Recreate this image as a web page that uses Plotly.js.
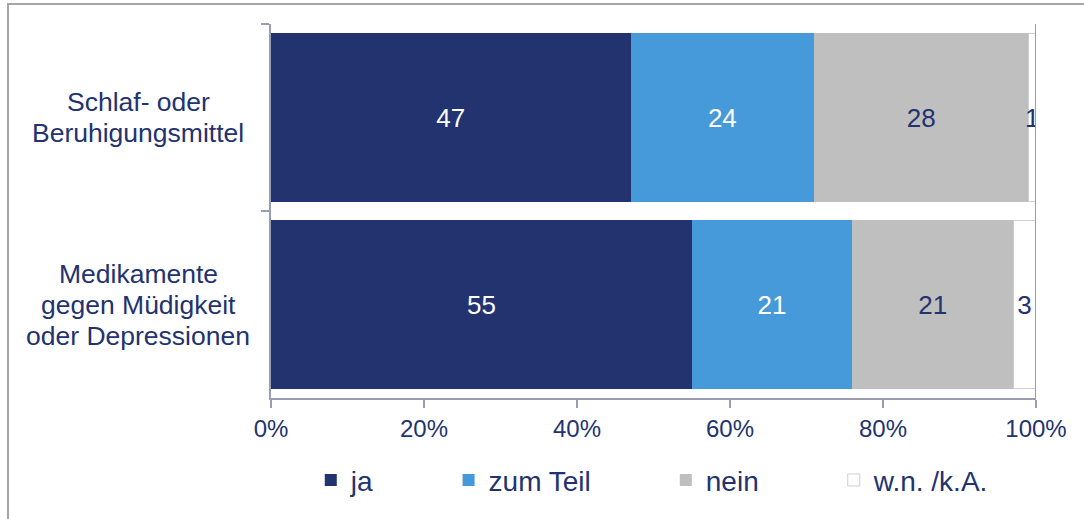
<!DOCTYPE html>
<html>
<head>
<meta charset="utf-8">
<script src="https://cdn.plot.ly/plotly-3.0.1.min.js"></script>
<style>html,body{margin:0;padding:0;background:#fff;}#chart{width:1084px;height:519px;}</style>
</head>
<body>
<div id="chart"></div>
<script>
const categories = ["Schlaf- oder<br>Beruhigungsmittel", "Medikamente<br>gegen Müdigkeit<br>oder Depressionen"];
const seriesNames = ["ja", "zum Teil", "nein", "w.n. /k.A."];
const ja = [47, 55];
const zumTeil = [24, 21];
const nein = [28, 21];
const wnka = [1, 3];
const xTickVals = [0, 20, 40, 60, 80, 100];
const xTickText = ["0%", "20%", "40%", "60%", "80%", "100%"];

const navy = "#22336f";
const axisCol = "#9a9cb4";
const FONT = "Arial, 'Liberation Sans', sans-serif";
const PAD = "\u00a0".repeat(9);

const seriesValues = [ja, zumTeil, nein, wnka];
const fills = [navy, "#469ad9", "#bfbfbf", "#ffffff"];
const lines = [navy, "#469ad9", "#bfbfbf", "#cfcfcf"];
const textCols = ["#ffffff", "#ffffff", navy, navy];

const traces = seriesValues.map((vals, i) => ({
  type: "bar",
  orientation: "h",
  name: seriesNames[i] + (i < seriesNames.length - 1 ? PAD : ""),
  y: categories,
  x: vals,
  text: vals.map(String),
  textposition: "inside",
  insidetextanchor: "middle",
  insidetextfont: {family: FONT, size: 26, color: textCols[i]},
  textangle: 0,
  marker: {color: fills[i], line: {color: lines[i], width: i === 3 ? 1 : 0}},
  hoverinfo: "none"
}));

// category labels: one annotation per text line, centred, 31px line pitch
const LINE = 31;
const annotations = [];
categories.forEach(c => {
  const parts = c.split("<br>");
  parts.forEach((p, k) => {
    annotations.push({
      xref: "paper", yref: "y", x: -0.1735, y: c,
      text: p, showarrow: false, xanchor: "center", yanchor: "middle", align: "center",
      yshift: -(k - (parts.length - 1) / 2) * LINE,
      font: {family: FONT, size: 26.5, color: navy}
    });
  });
});

const layout = {
  width: 1084, height: 519,
  margin: {l: 271, r: 48, t: 24, b: 121},
  paper_bgcolor: "#ffffff", plot_bgcolor: "#ffffff",
  barmode: "stack",
  bargap: 0.1,
  showlegend: true,
  uniformtext: {minsize: 26, mode: "show"},
  font: {family: FONT, color: navy},
  xaxis: {
    range: [0, 100], tickvals: xTickVals, ticktext: xTickText,
    showgrid: false, zeroline: false, showline: true, linecolor: axisCol, linewidth: 2,
    ticks: "outside", ticklen: 8, tickwidth: 2, tickcolor: axisCol,
    tickfont: {family: FONT, size: 24, color: navy}, fixedrange: true
  },
  yaxis: {
    autorange: "reversed", showticklabels: false, showgrid: false, zeroline: false,
    showline: true, linecolor: axisCol, linewidth: 2,
    ticks: "outside", tickson: "boundaries", ticklen: 8, tickwidth: 2, tickcolor: axisCol,
    fixedrange: true
  },
  legend: {
    orientation: "h", x: 0.052, xanchor: "left", y: -0.22, yanchor: "middle",
    font: {family: FONT, size: 28, color: navy}, traceorder: "normal"
  },
  annotations: annotations,
  shapes: [
    {type: "line", xref: "x", yref: "paper", x0: 100, x1: 100, y0: 0, y1: 1, line: {color: axisCol, width: 2}},
    {type: "rect", xref: "paper", yref: "paper", x0: -0.3438, x1: 1.08, y0: -0.34, y1: 1.0535,
     line: {color: "#a6a6a6", width: 2}, fillcolor: "rgba(0,0,0,0)", layer: "below"}
  ]
};

Plotly.newPlot("chart", traces, layout, {displayModeBar: false, staticPlot: true});
</script>
</body>
</html>
